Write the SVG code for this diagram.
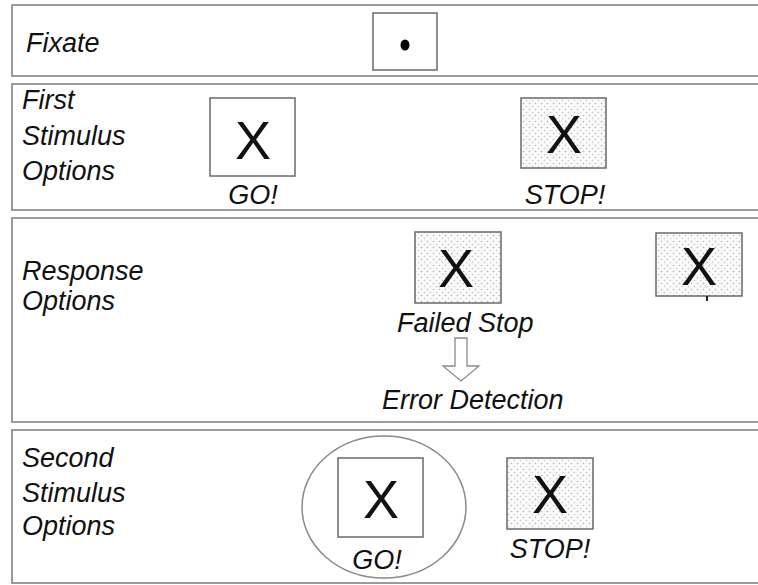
<svg xmlns="http://www.w3.org/2000/svg" width="758" height="585" viewBox="0 0 758 585">
<style>
.panel{fill:#fff;stroke:#9a9a9a;stroke-width:2}
.box{stroke:#6a6a6a;stroke-width:1.5}
.white{fill:#fff}
.dots{fill:url(#dots)}
.lbl{font-family:"Liberation Sans",Arial,sans-serif;font-style:italic;font-size:27px;fill:#111}
.x{font-family:"Liberation Sans",Arial,sans-serif;font-size:54px;fill:#111;text-anchor:middle}
</style>
<defs>
<pattern id="dots" width="6" height="6" patternUnits="userSpaceOnUse">
<rect width="6" height="6" fill="#fafafa"/>
<circle cx="1.5" cy="1.5" r="0.8" fill="#b5b5b5"/>
<circle cx="4.5" cy="4.5" r="0.8" fill="#c8c8c8"/>
</pattern>
</defs>
<rect width="758" height="585" fill="#fff"/>
<g id="panel-fixate">
<rect class="panel" x="12" y="5" width="760" height="71"/>
<text class="lbl" x="26" y="52">Fixate</text>
<rect class="box white" x="373" y="13" width="64" height="57"/>
<ellipse cx="405" cy="45" rx="4.5" ry="5.5" fill="#000"/>
</g>
<g id="panel-first">
<rect class="panel" x="12" y="84" width="760" height="126"/>
<text class="lbl" x="22" y="109">First</text>
<text class="lbl" x="22" y="145">Stimulus</text>
<text class="lbl" x="22" y="180">Options</text>
<g id="first-go">
<rect class="box white" x="210" y="98" width="85" height="78"/>
<text class="x" x="253" y="159">X</text>
<text class="lbl" x="253" y="204" text-anchor="middle">GO!</text>
</g>
<g id="first-stop">
<rect class="box dots" x="521" y="98" width="85" height="70"/>
<text class="x" x="564" y="153">X</text>
<text class="lbl" x="565" y="204" text-anchor="middle">STOP!</text>
</g>
</g>
<g id="panel-response">
<rect class="panel" x="12" y="218" width="760" height="204"/>
<text class="lbl" x="22" y="280">Response</text>
<text class="lbl" x="22" y="310">Options</text>
<g id="failed-stop">
<rect class="box dots" x="415" y="232" width="86" height="71"/>
<text class="x" x="456" y="287">X</text>
<text class="lbl" x="397" y="332">Failed Stop</text>
</g>
<g id="right-stop">
<rect class="box dots" x="656" y="233" width="86" height="63"/>
<text class="x" x="699" y="285">X</text>
<line x1="707" y1="296" x2="707" y2="301" stroke="#222" stroke-width="2"/>
</g>
<g id="error-detection">
<text class="lbl" x="382" y="409">Error Detection</text>
</g>
</g>
<g id="panel-second">
<rect class="panel" x="12" y="430" width="760" height="153"/>
<text class="lbl" x="22" y="467">Second</text>
<text class="lbl" x="22" y="502">Stimulus</text>
<text class="lbl" x="22" y="535">Options</text>
<g id="second-go">
<ellipse cx="384" cy="507" rx="82" ry="71" fill="none" stroke="#8a8a8a" stroke-width="1.5"/>
<rect class="box white" x="338" y="458" width="85" height="79"/>
<text class="x" x="381" y="518">X</text>
<text class="lbl" x="377" y="569" text-anchor="middle">GO!</text>
</g>
<g id="second-stop">
<rect class="box dots" x="507" y="458" width="86" height="71"/>
<text class="x" x="550" y="513">X</text>
<text class="lbl" x="550" y="558" text-anchor="middle">STOP!</text>
</g>
</g>
<g id="connectors">
<polygon points="455,338 467,338 467,366 479,366 461,381 443,366 455,366" fill="#fff" stroke="#8a8a8a" stroke-width="1.3"/>
</g>
</svg>
